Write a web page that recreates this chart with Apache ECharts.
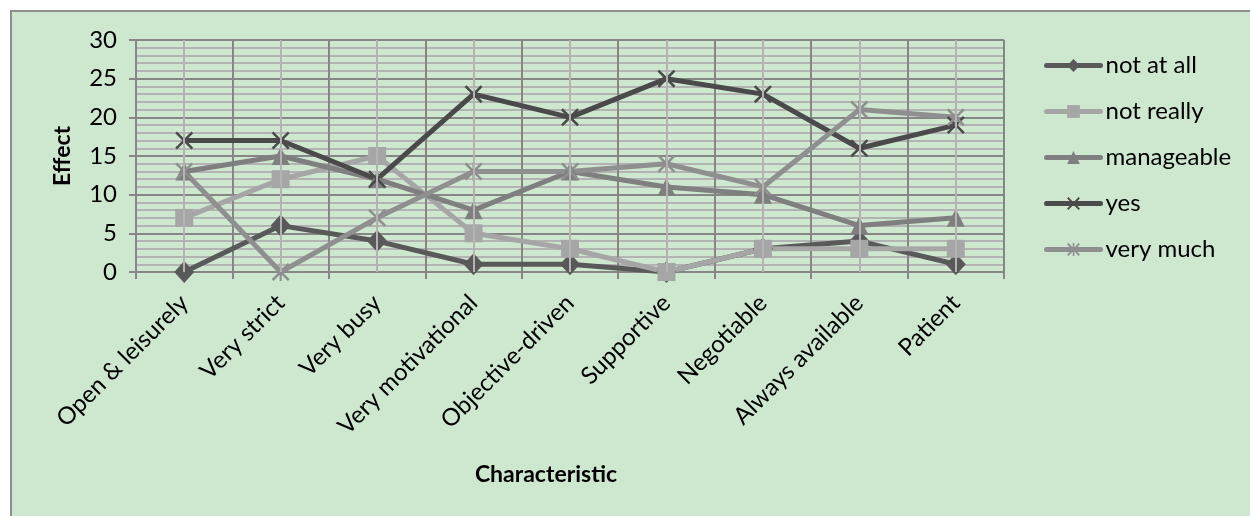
<!DOCTYPE html>
<html>
<head>
<meta charset="utf-8">
<script src="https://cdn.jsdelivr.net/npm/echarts@6/dist/echarts.min.js"></script>
<style>
  html, body { margin: 0; padding: 0; background: #fff; }
  #bg { position: absolute; left: 10px; top: 10px; width: 1250px; height: 516px;
        background: #cde8cf; border-left: 2px solid #8e8e8e; border-top: 2px solid #8e8e8e; }
  #chart { position: absolute; left: 0; top: 0; width: 1250px; height: 516px; }
</style>
</head>
<body>
<div id="bg"></div>
<div id="chart"></div>
<script>
const categories = ["Open & leisurely", "Very strict", "Very busy", "Very motivational",
  "Objective-driven", "Supportive", "Negotiable", "Always available", "Patient"];
const notAtAll   = [0, 6, 4, 1, 1, 0, 3, 4, 1];
const notReally  = [7, 12, 15, 5, 3, 0, 3, 3, 3];
const manageable = [13, 15, 12, 8, 13, 11, 10, 6, 7];
const yes        = [17, 17, 12, 23, 20, 25, 23, 16, 19];
const veryMuch   = [13, 0, 7, 13, 13, 14, 11, 21, 20];

const crossPath = "path://M0,1L1,0L5,4L9,0L10,1L6,5L10,9L9,10L5,6L1,10L0,9L4,5Z";
const starPath = "path://M0,1L1,0L5,4L9,0L10,1L6,5L10,9L9,10L5,6L1,10L0,9L4,5Z" +
  "M4.4,0L5.6,0L5.6,10L4.4,10Z";

const font = "Lato, 'Open Sans', sans-serif";

function lineSeries(name, data, color, symbol, size) {
  return {
    name, type: "line", data, symbol, symbolSize: size,
    z: 3,
    lineStyle: { color, width: 5 },
    itemStyle: { color, borderWidth: 0 }
  };
}

const chart = echarts.init(document.getElementById("chart"));
chart.setOption({
  animation: false,
  textStyle: { fontFamily: font },
  grid: { left: 136, right: 246, top: 40, bottom: 244 },
  legend: {
    orient: "vertical",
    left: 1044,
    top: 53,
    padding: 0,
    itemGap: 21,
    itemWidth: 54,
    itemHeight: 16,
    lineStyle: { width: 5, cap: "round" },
    textStyle: { fontSize: 24, lineHeight: 25, color: "#000", fontFamily: font },
    data: ["not at all", "not really", "manageable", "yes", "very much"]
  },
  xAxis: {
    type: "category",
    data: categories,
    boundaryGap: true,
    name: "Characteristic",
    nameLocation: "middle",
    nameGap: 191,
    nameTextStyle: { fontSize: 23, fontWeight: "bold", color: "#000", padding: [0, 48, 0, 0] },
    axisLine: { lineStyle: { color: "#868686", width: 2 } },
    axisTick: { show: true, length: 7, lineStyle: { color: "#868686", width: 2 } },
    axisLabel: { rotate: 45, fontSize: 24, color: "#000", margin: 27, interval: 0 },
    splitLine: { show: true, lineStyle: { color: "#868686", width: 2 } }
  },
  yAxis: {
    type: "value",
    min: 0, max: 30, interval: 5,
    name: "Effect",
    nameLocation: "middle",
    nameGap: 62,
    nameTextStyle: { fontSize: 23, fontWeight: "bold", color: "#000" },
    axisLine: { show: false },
    axisTick: { show: true, length: 7, lineStyle: { color: "#868686", width: 2 } },
    axisLabel: { fontSize: 24, color: "#000", margin: 19 },
    splitLine: { lineStyle: { color: "#868686", width: 2 } },
    minorTick: { show: false, splitNumber: 5 },
    minorSplitLine: { show: true, lineStyle: { color: "#b3b3b3", width: 2 } }
  },
  series: [
    {
      name: "centers", type: "line", data: [], z: 1, silent: true,
      markLine: {
        silent: true, symbol: "none", label: { show: false },
        lineStyle: { color: "#b3b3b3", width: 2, type: "solid" },
        data: categories.map((c) => ({ xAxis: c }))
      }
    },
    lineSeries("not at all", notAtAll, "#595959", "diamond", [20, 22]),
    lineSeries("not really", notReally, "#a6a6a6", "rect", 18),
    lineSeries("manageable", manageable, "#7f7f7f", "triangle", 18),
    lineSeries("yes", yes, "#4a4a4a", crossPath, 18),
    lineSeries("very much", veryMuch, "#8f8f8f", starPath, 18)
  ]
});
</script>
</body>
</html>
